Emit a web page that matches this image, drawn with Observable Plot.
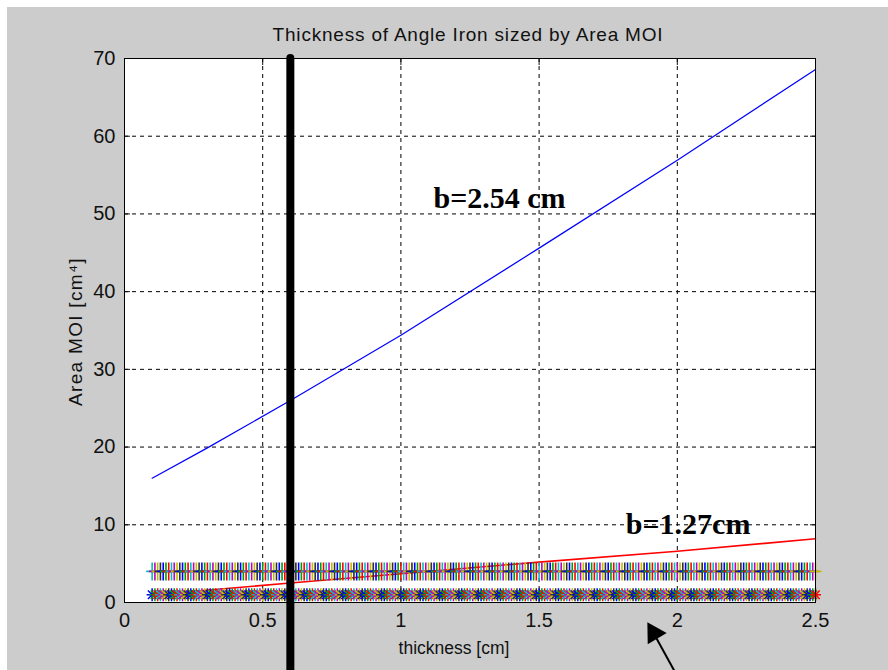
<!DOCTYPE html>
<html><head><meta charset="utf-8">
<script src="https://cdn.jsdelivr.net/npm/d3@7"></script>
<script src="https://cdn.jsdelivr.net/npm/@observablehq/plot@0.6"></script>
<style>
html,body{margin:0;padding:0;background:#fff;overflow:hidden}
#chart svg{display:block;background:linear-gradient(#cccccc,#cccccc) 7px 7px / 881px 663px no-repeat,#ffffff;}
</style></head><body><div id="chart"></div>
<script>
const title = "Thickness of Angle Iron sized by Area MOI";
const xLabel = "thickness [cm]";
const yLabel = "Area MOI [cm⁴]";
const xTicks = [0, 0.5, 1, 1.5, 2, 2.5];
const xTickLabels = ["0", "0.5", "1", "1.5", "2", "2.5"];
const yTicks = [0, 10, 20, 30, 40, 50, 60, 70];

// b = 2.54 cm curve
const blueThickness = [0.1, 0.3, 0.6, 1.0, 1.5, 2.0, 2.5];
const blueMOI = [16.0, 19.9, 26.0, 34.4, 45.6, 56.9, 68.6];
// b = 1.27 cm curve
const redThickness = [0.1, 0.6, 1.0, 1.5, 2.0, 2.5];
const redMOI = [1.0, 2.5, 3.7, 5.2, 6.6, 8.2];

// marker rows
const markerThickness = [
0.10,0.11,0.12,0.13,0.14,0.15,0.16,0.17,0.18,0.19,
0.20,0.21,0.22,0.23,0.24,0.25,0.26,0.27,0.28,0.29,
0.30,0.31,0.32,0.33,0.34,0.35,0.36,0.37,0.38,0.39,
0.40,0.41,0.42,0.43,0.44,0.45,0.46,0.47,0.48,0.49,
0.50,0.51,0.52,0.53,0.54,0.55,0.56,0.57,0.58,0.59,
0.60,0.61,0.62,0.63,0.64,0.65,0.66,0.67,0.68,0.69,
0.70,0.71,0.72,0.73,0.74,0.75,0.76,0.77,0.78,0.79,
0.80,0.81,0.82,0.83,0.84,0.85,0.86,0.87,0.88,0.89,
0.90,0.91,0.92,0.93,0.94,0.95,0.96,0.97,0.98,0.99,
1.00,1.01,1.02,1.03,1.04,1.05,1.06,1.07,1.08,1.09,
1.10,1.11,1.12,1.13,1.14,1.15,1.16,1.17,1.18,1.19,
1.20,1.21,1.22,1.23,1.24,1.25,1.26,1.27,1.28,1.29,
1.30,1.31,1.32,1.33,1.34,1.35,1.36,1.37,1.38,1.39,
1.40,1.41,1.42,1.43,1.44,1.45,1.46,1.47,1.48,1.49,
1.50,1.51,1.52,1.53,1.54,1.55,1.56,1.57,1.58,1.59,
1.60,1.61,1.62,1.63,1.64,1.65,1.66,1.67,1.68,1.69,
1.70,1.71,1.72,1.73,1.74,1.75,1.76,1.77,1.78,1.79,
1.80,1.81,1.82,1.83,1.84,1.85,1.86,1.87,1.88,1.89,
1.90,1.91,1.92,1.93,1.94,1.95,1.96,1.97,1.98,1.99,
2.00,2.01,2.02,2.03,2.04,2.05,2.06,2.07,2.08,2.09,
2.10,2.11,2.12,2.13,2.14,2.15,2.16,2.17,2.18,2.19,
2.20,2.21,2.22,2.23,2.24,2.25,2.26,2.27,2.28,2.29,
2.30,2.31,2.32,2.33,2.34,2.35,2.36,2.37,2.38,2.39,
2.40,2.41,2.42,2.43,2.44,2.45,2.46,2.47,2.48,2.49,
2.50];
const upperRowMOI = 4.0;
const lowerRowMOI = 1.0;
const markerColors = ["#0000ff", "#00a000", "#ff0000", "#00bfbf", "#bf00bf", "#bfbf00", "#303030"];

const selectedThickness = 0.6;
const selectedRange = [70, -10];

const labelText = ["b=2.54 cm", "b=1.27cm"];
const labelX = [1.357, 2.039];
const labelY = [52.0, 10.1];

const arrowLine = [[1.921, -4.38], [2.008, -10.0]];
const arrowHead = [1.9154, -3.95];

// build tables
const blue = blueThickness.map((t, i) => ({t, v: blueMOI[i]}));
const red = redThickness.map((t, i) => ({t, v: redMOI[i]}));
const upper = markerThickness.map((t, i) => ({t, v: upperRowMOI, c: markerColors[(i + 3) % 7]}));
const lower = markerThickness.map((t, i) => ({t, v: lowerRowMOI, c: markerColors[i % 7]}));
const labels = labelText.map((text, i) => ({text, x: labelX[i], y: labelY[i]}));

const tallPlus = {draw(ctx) { ctx.moveTo(0, -9); ctx.lineTo(0, 9); ctx.moveTo(-6, 0); ctx.lineTo(6, 0); }};
const star = {draw(ctx) {
  ctx.moveTo(0, -6.5); ctx.lineTo(0, 6.5);
  ctx.moveTo(-5.5, 0); ctx.lineTo(5.5, 0);
  ctx.moveTo(-4.2, -4.2); ctx.lineTo(4.2, 4.2);
  ctx.moveTo(-4.2, 4.2); ctx.lineTo(4.2, -4.2);
}};

const font = "'Liberation Sans', Arial, sans-serif";

const chart = Plot.plot({
  width: 888, height: 670,
  marginTop: 58, marginRight: 73, marginBottom: 68, marginLeft: 124,
  x: {domain: [0, 2.5]},
  y: {domain: [0, 70]},
  color: {type: "identity"},
  style: {fontFamily: font, fontSize: "20px", color: "#111"},
  marks: [
    Plot.frame({fill: "white"}),
    Plot.gridX(xTicks.slice(1, -1), {stroke: "#000", strokeOpacity: 1, strokeDasharray: "4,4"}),
    Plot.gridY(yTicks.slice(1, -1), {stroke: "#000", strokeOpacity: 1, strokeDasharray: "4,4"}),
    Plot.axisX(xTicks, {anchor: "bottom", tickSize: -6, tickPadding: 16, fontSize: 20, label: null,
      tickFormat: d => xTickLabels[xTicks.indexOf(d)]}),
    Plot.axisX(xTicks, {anchor: "top", tickSize: -6, tickFormat: () => "", label: null}),
    Plot.axisY(yTicks, {anchor: "left", tickSize: -6, tickPadding: 15, fontSize: 20, label: null}),
    Plot.axisY(yTicks, {anchor: "right", tickSize: -6, tickFormat: () => "", label: null}),
    Plot.line(blue, {x: "t", y: "v", stroke: "#0000ff", strokeWidth: 1.2}),
    Plot.line(red, {x: "t", y: "v", stroke: "#ff0000", strokeWidth: 1.6}),
    Plot.dot(upper, {x: "t", y: "v", symbol: tallPlus, stroke: "c", fill: "none", strokeWidth: 1.6}),
    Plot.dot(lower, {x: "t", y: "v", symbol: star, stroke: "c", fill: "none", strokeWidth: 1.5}),
    Plot.frame({stroke: "#000", strokeWidth: 1}),
    Plot.text(labels, {x: "x", y: "y", text: "text", fontSize: 30, fontWeight: "bold",
      fontFamily: "'Liberation Serif', 'Times New Roman', serif", fill: "#000"}),
    Plot.ruleX([selectedThickness], {y1: selectedRange[0], y2: selectedRange[1], stroke: "#000", strokeWidth: 8, strokeLinecap: "round"}),
    Plot.link([arrowLine], {x1: d => d[0][0], y1: d => d[0][1], x2: d => d[1][0], y2: d => d[1][1], stroke: "#000", strokeWidth: 2}),
    Plot.dot([arrowHead], {x: d => d[0], y: d => d[1], symbol: "triangle", r: 8.2, fill: "#000", stroke: "none", rotate: -31}),
    Plot.text([title], {frameAnchor: "top", lineAnchor: "middle", dy: -24, dx: -2, fontSize: 19, fill: "#111"}),
    Plot.text([xLabel], {frameAnchor: "bottom", lineAnchor: "middle", dy: 46, dx: -16, fontSize: 17.5, fill: "#111"}),
    Plot.text([yLabel], {frameAnchor: "left", textAnchor: "middle", lineAnchor: "middle", dx: -49, dy: 1, rotate: -90, fontSize: 19, fill: "#111"})
  ]
});
document.getElementById("chart").append(chart);
d3.select(chart).selectAll("text")
  .filter(function() { return this.textContent === title; })
  .attr("letter-spacing", "0.8px");
d3.select(chart).selectAll("text")
  .filter(function() { return this.textContent === yLabel; })
  .attr("letter-spacing", "1.3px");
</script></body></html>
